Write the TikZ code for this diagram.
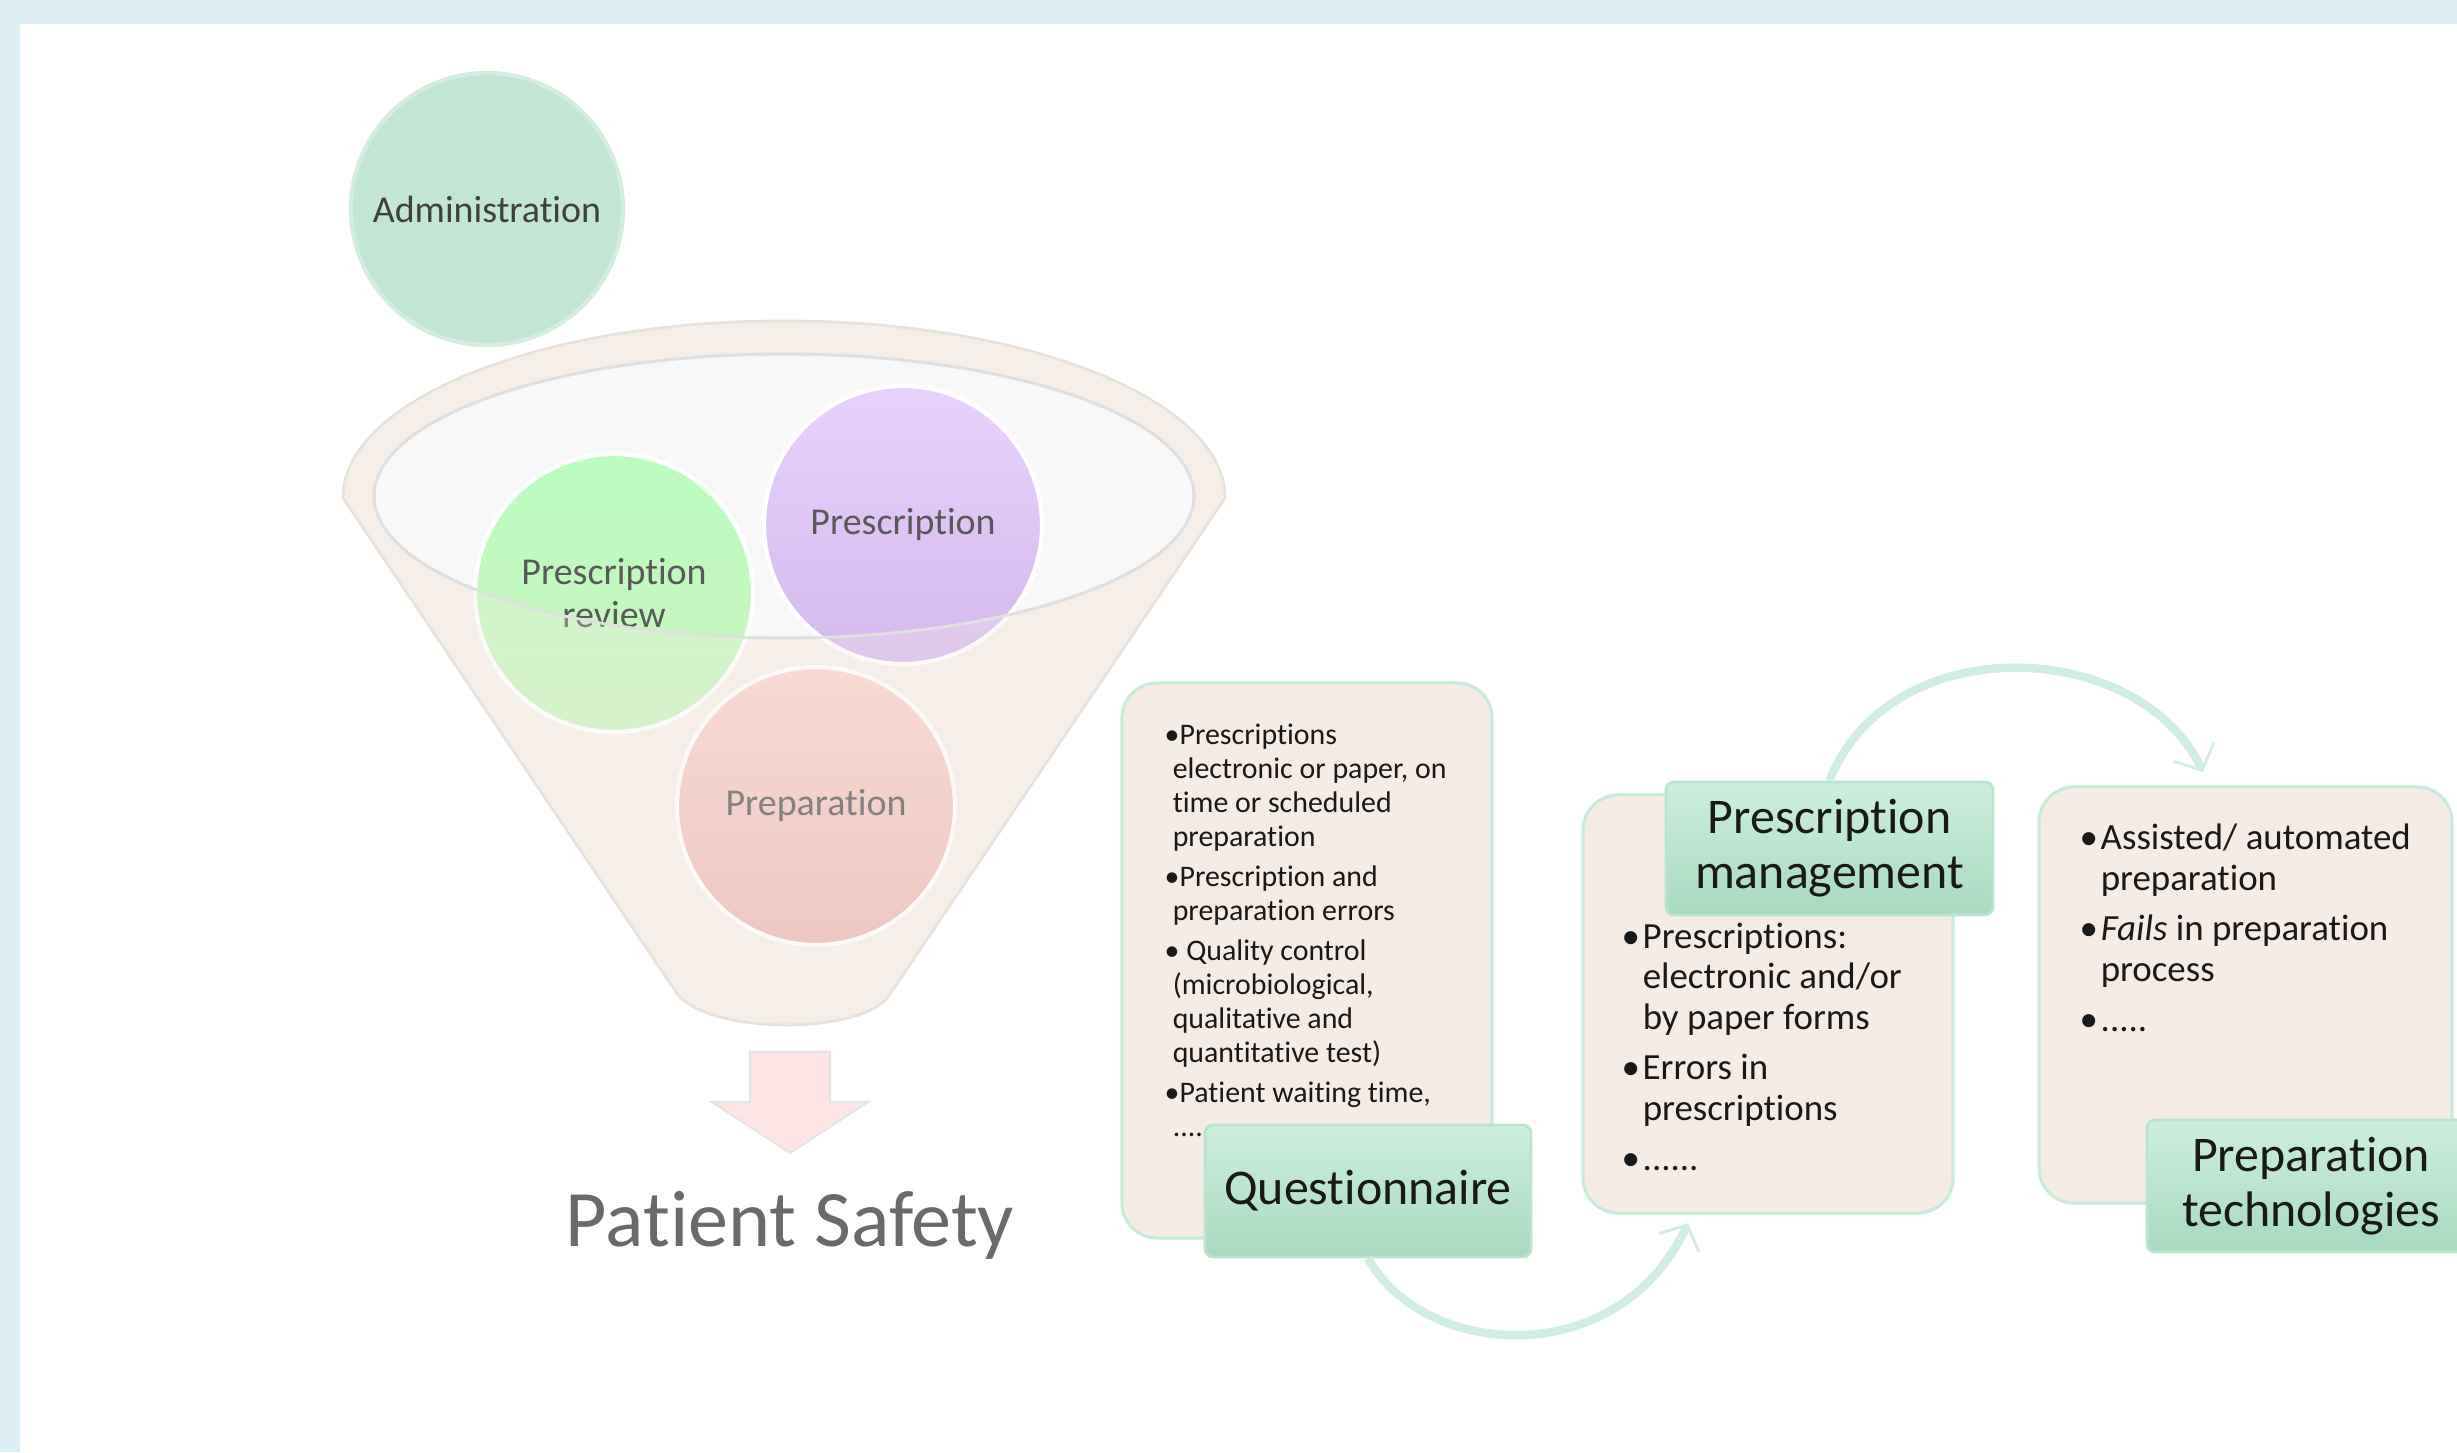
\documentclass[tikz,border=0pt]{standalone}
\usepackage{fontspec}
\setmainfont{Carlito}[Ligatures=NoCommon]
\usetikzlibrary{arrows.meta}

\definecolor{bgblue}{HTML}{DDEFF5}
\definecolor{funnelfill}{HTML}{F6EFE9}
\definecolor{funnelline}{HTML}{E6E1DC}
\definecolor{opening}{HTML}{F8F8F8}
\definecolor{openline}{HTML}{E0E0E0}
\definecolor{adminfill}{HTML}{C2E6D3}
\definecolor{reviewtop}{HTML}{BCFCC0}
\definecolor{reviewbot}{HTML}{CBF3C0}
\definecolor{presctop}{HTML}{E8D2FC}
\definecolor{prescbot}{HTML}{D4B8EC}
\definecolor{preptop}{HTML}{F8D3CD}
\definecolor{prepbot}{HTML}{ECB8B4}
\definecolor{txtgrey}{HTML}{595959}
\definecolor{panelfill}{HTML}{F5ECE6}
\definecolor{panelline}{HTML}{C9EBDB}
\definecolor{tagtop}{HTML}{CDEFDD}
\definecolor{tagbot}{HTML}{A8D8C0}
\definecolor{tagline}{HTML}{BBE4CF}
\definecolor{arcmint}{HTML}{D2EEE2}
\definecolor{arrowpink}{HTML}{FDE5E5}

\newcommand{\bul}[1]{\makebox[#1][l]{\textbullet}}
\newcommand{\hang}[1]{\hspace*{#1}}

\tikzset{
  ball/.style 2 args={circle, minimum size=2.78cm, inner sep=0pt, top color=#1, bottom color=#2,
    draw=white, line width=1.2pt, text=txtgrey, align=center,
    font=\fontsize{10.8}{12}\selectfont},
  panel/.style={draw=panelline, line width=0.9pt, fill=panelfill, rounded corners=0.35cm},
  labelbox/.style={draw=tagline, line width=0.8pt, top color=tagtop, bottom color=tagbot,
    rounded corners=0.08cm, inner sep=0pt, align=center, text=black!90,
    font=\fontsize{14.2}{15.6}\selectfont},
  listtext/.style={anchor=north west, inner sep=0pt, align=left, text=black!90},
  flow/.style={draw=arcmint, line width=2.4pt,
    -{Straight Barb[length=2mm, width=4.4mm, line width=0.8pt]}}
}

\begin{document}
\begin{tikzpicture}
    \clip (0,0) rectangle (24.57,14.52);
    \fill[bgblue] (0,0) rectangle (24.57,14.52);
    \fill[white] (0.20,0) rectangle (24.57,14.28);

    % funnel
    \path[fill=funnelfill, draw=funnelline, line width=0.8pt] (3.43,9.54)
        arc[start angle=180, end angle=0, x radius=4.41, y radius=1.77]
        -- (8.90,4.58) .. controls (8.65,4.16) and (7.00,4.16) .. (6.74,4.63) -- cycle;
    \filldraw[fill=opening, draw=openline, line width=0.8pt] (7.84,9.56) ellipse [x radius=4.10, y radius=1.42];

    \node[ball={adminfill}{adminfill}, draw=adminfill!70!white, text=black!75, minimum size=2.72cm] (admin) at (4.87,12.43) {Administration};
    \node[ball={reviewtop}{reviewbot}] (review) at (6.14,8.59) {Prescription\\review};
    \node[ball={presctop}{prescbot}] (presc) at (9.03,9.27) {Prescription};
    \node[ball={preptop}{prepbot}] (prep) at (8.16,6.46) {Preparation};

    \fill[funnelfill, opacity=0.28, even odd rule] (3.43,9.54)
        arc[start angle=180, end angle=0, x radius=4.41, y radius=1.77]
        -- (8.90,4.58) .. controls (8.65,4.16) and (7.00,4.16) .. (6.74,4.63) -- cycle
        (7.84,9.56) ellipse [x radius=4.10, y radius=1.42];
    \draw[openline, line width=0.8pt] (7.84,9.56) ellipse [x radius=4.10, y radius=1.42];

    % result
    \filldraw[fill=arrowpink, draw=black!10, line width=0.6pt] (7.50,4.00) -- (8.30,4.00) -- (8.30,3.50)
        -- (8.68,3.50) -- (7.90,2.99) -- (7.12,3.50) -- (7.50,3.50) -- cycle;
    \node[text=txtgrey!90, font=\fontsize{22.8}{27}\selectfont] (safety) at (7.90,2.27) {Patient Safety};

    % panels
    \node[panel, minimum width=3.70cm, minimum height=5.55cm] (qbox) at (13.07,4.915) {};
    \node[panel, minimum width=3.70cm, minimum height=4.18cm] (pmbox) at (17.68,4.48) {};
    \node[panel, minimum width=4.13cm, minimum height=4.16cm] (ptbox) at (22.455,4.57) {};

    \node[listtext, font=\fontsize{8.5}{9.7}\selectfont] (qlist) at (11.64,7.29) {%
        \textbullet Prescriptions\\ \hang{.27em}electronic or paper, on\\ \hang{.27em}time or scheduled\\ \hang{.27em}preparation\\[1.6pt]
        \textbullet Prescription and\\ \hang{.27em}preparation errors\\[1.6pt]
        \textbullet{} Quality control\\ \hang{.27em}(microbiological,\\ \hang{.27em}qualitative and\\ \hang{.27em}quantitative test)\\[1.6pt]
        \textbullet Patient waiting time,\\ \hang{.27em}....};
    \node[listtext, font=\fontsize{10.5}{11.6}\selectfont] (pmlist) at (16.21,5.30) {%
        \bul{.57em}Prescriptions:\\ \hang{.57em}electronic and/or\\ \hang{.57em}by paper forms\\[2.7pt]
        \bul{.57em}Errors in\\ \hang{.57em}prescriptions\\[2.7pt]
        \bul{.57em}......};
    \node[listtext, font=\fontsize{10.5}{11.6}\selectfont] (ptlist) at (20.79,6.29) {%
        \bul{.57em}Assisted/ automated\\ \hang{.57em}preparation\\[2.7pt]
        \bul{.57em}\textit{Fails} in preparation\\ \hang{.57em}process\\[2.7pt]
        \bul{.57em}.....};

    \node[labelbox, minimum width=3.26cm, minimum height=1.32cm] (qtag) at (13.68,2.61) {Questionnaire};
    \node[labelbox, minimum width=3.27cm, minimum height=1.33cm] (pmtag) at (18.295,6.035) {Prescription\\management};
    \node[labelbox, minimum width=3.28cm, minimum height=1.32cm] (pttag) at (23.11,2.66) {Preparation\\technologies};

    % links
    \coordinate (pmin) at (16.88,2.29);
    \coordinate (ptin) at (22.03,6.80);
    \draw[flow] (qtag.south) .. controls (14.25,0.92) and (16.20,0.80) .. (pmin);
    \draw[flow] (pmtag.north) .. controls (18.90,8.25) and (21.40,8.15) .. (ptin);
\end{tikzpicture}
\end{document}
